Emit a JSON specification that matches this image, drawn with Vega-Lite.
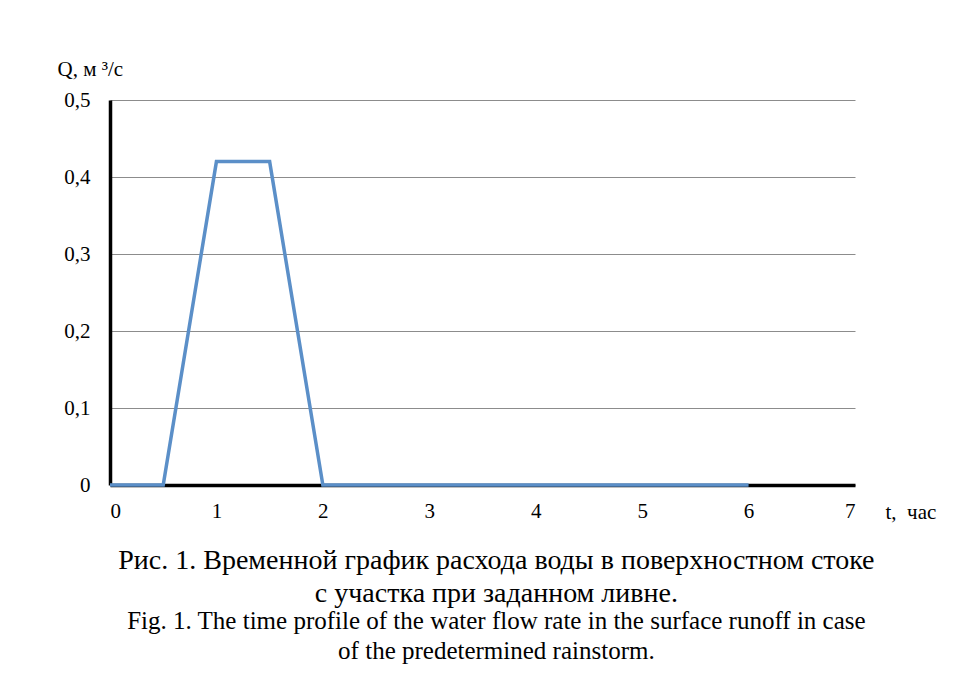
{
  "$schema": "https://vega.github.io/schema/vega-lite/v6.json",
  "width": 745,
  "height": 385,
  "autosize": {"type": "none"},
  "padding": {"left": 110, "top": 100, "right": 119, "bottom": 190},
  "background": "white",
  "data": {"values": [
    {"t": 0, "Q": 0},
    {"t": 0.5, "Q": 0},
    {"t": 1, "Q": 0.42},
    {"t": 1.5, "Q": 0.42},
    {"t": 2, "Q": 0},
    {"t": 3, "Q": 0},
    {"t": 4, "Q": 0},
    {"t": 5, "Q": 0},
    {"t": 6, "Q": 0}
  ]},
  "mark": {"type": "line", "color": "#5B8FC8", "strokeWidth": 3.5, "clip": false},
  "encoding": {
    "x": {
      "field": "t", "type": "quantitative",
      "scale": {"domain": [0, 7], "nice": false},
      "axis": {
        "values": [0, 1, 2, 3, 4, 5, 6, 7],
        "title": "t,\u00a0 час",
        "titleAnchor": "start",
        "titleAlign": "left",
        "titleBaseline": "alphabetic",
        "titleX": 775,
        "titleY": 33,
        "grid": false,
        "ticks": false,
        "labelPadding": 15,
        "domainColor": "black",
        "domainWidth": 3.5
      }
    },
    "y": {
      "field": "Q", "type": "quantitative",
      "scale": {"domain": [0, 0.5], "nice": false},
      "axis": {
        "values": [0, 0.1, 0.2, 0.3, 0.4, 0.5],
        "format": ".1f",
        "labelExpr": "datum.value == 0 ? '0' : replace(datum.label, '.', ',')",
        "title": "Q, м ³/с",
        "titleAngle": 0,
        "titleAnchor": "start",
        "titleAlign": "left",
        "titleBaseline": "alphabetic",
        "titleX": -53,
        "titleY": -25,
        "grid": true,
        "gridColor": "#8c8c8c",
        "gridWidth": 1,
        "ticks": false,
        "labelPadding": 20,
        "domainColor": "black",
        "domainWidth": 3.5
      }
    }
  },
  "title": {
    "text": ["Рис. 1. Временной график расхода воды в поверхностном стоке", "с участка при заданном ливне."],
    "subtitle": ["Fig. 1. The time profile of the water flow rate in the surface runoff in case", "of the predetermined rainstorm."],
    "orient": "bottom",
    "anchor": "middle",
    "frame": "bounds",
    "offset": 25,
    "font": "Liberation Serif",
    "fontSize": 28,
    "fontWeight": "normal",
    "lineHeight": 33,
    "color": "black",
    "subtitleFont": "Liberation Serif",
    "subtitleFontSize": 25,
    "subtitleLineHeight": 30,
    "subtitleColor": "black",
    "subtitlePadding": 1
  },
  "config": {
    "view": {"stroke": null},
    "axis": {
      "labelFont": "Liberation Serif",
      "labelFontSize": 21,
      "labelColor": "black",
      "titleFont": "Liberation Serif",
      "titleFontSize": 21,
      "titleFontWeight": "normal",
      "titleColor": "black"
    }
  }
}
